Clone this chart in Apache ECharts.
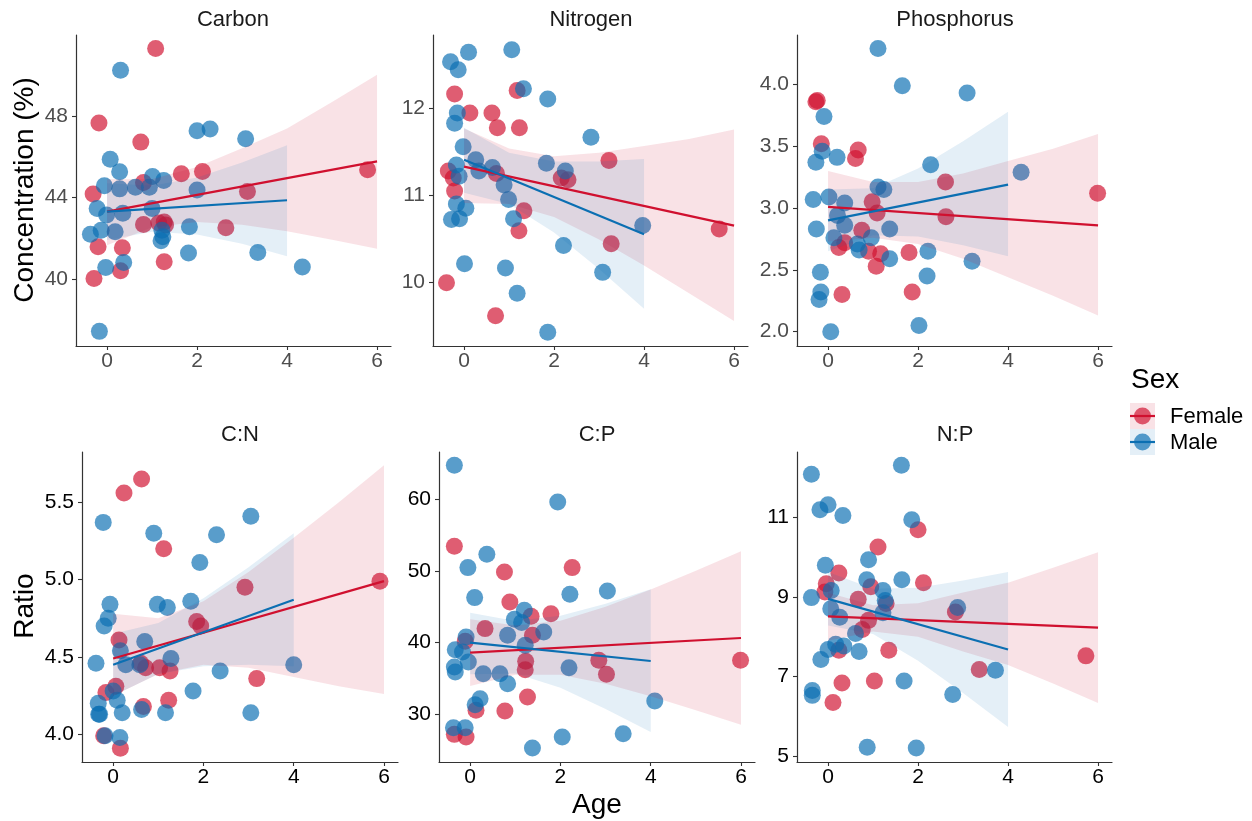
<!DOCTYPE html>
<html>
<head>
<meta charset="utf-8">
<script src="https://cdn.jsdelivr.net/npm/echarts@6/dist/echarts.min.js"></script>
<style>
  html, body { margin: 0; padding: 0; background: #fff; }
  #chart { width: 1252px; height: 821px; }
</style>
</head>
<body>
<div id="chart"></div>
<script>
// panel titles
const panelNames = ['Carbon', 'Nitrogen', 'Phosphorus', 'C:N', 'C:P', 'N:P'];
const sexes = ['Female', 'Male'];
const ageTicks = [0, 2, 4, 6];

// y tick labels per panel
const carbonTicks = [40, 44, 48];
const nitrogenTicks = [10, 11, 12];
const phosphorusTicks = [2.0, 2.5, 3.0, 3.5, 4.0];
const cnTicks = [4.0, 4.5, 5.0, 5.5];
const cpTicks = [30, 40, 50, 60];
const npTicks = [5, 7, 9, 11];

// points: [age, value]
const carbonFemale = [[1.08,51.34],[-0.18,47.67],[0.75,46.73],[0.81,44.74],[-0.31,44.18],[1.65,45.17],[2.12,45.28],[3.12,44.3],[5.79,45.37],[0.81,42.68],[1.15,42.75],[1.27,42.8],[1.30,42.65],[2.64,42.52],[-0.2,41.58],[0.34,41.53],[1.27,40.84],[0.3,40.4],[-0.29,40.02]];
const carbonMale = [[0.3,50.27],[2.0,47.29],[2.29,47.37],[3.08,46.9],[0.07,45.89],[0.28,45.27],[-0.06,44.58],[0.28,44.43],[0.63,44.51],[0.94,44.51],[1.01,45.04],[1.26,44.84],[2.0,44.38],[-0.22,43.47],[-0.01,43.14],[0.35,43.23],[1.0,43.47],[-0.37,42.2],[-0.13,42.4],[0.18,42.32],[1.22,42.4],[1.24,42.07],[1.2,41.88],[1.83,42.57],[1.81,41.28],[3.35,41.3],[0.37,40.81],[-0.03,40.56],[4.34,40.59],[-0.17,37.42]];

const nitrogenFemale = [[-0.21,12.17],[0.13,11.95],[0.62,11.95],[0.74,11.78],[1.18,12.21],[1.23,11.78],[-0.35,11.28],[-0.24,11.2],[-0.21,11.05],[0.72,11.25],[2.16,11.2],[2.31,11.18],[3.22,11.4],[1.33,10.82],[1.22,10.59],[3.27,10.44],[5.67,10.61],[-0.39,9.99],[0.7,9.61]];
const nitrogenMale = [[0.1,12.65],[1.06,12.68],[-0.3,12.54],[-0.13,12.45],[1.32,12.23],[1.86,12.11],[-0.15,11.95],[-0.21,11.83],[2.82,11.67],[-0.02,11.56],[0.26,11.41],[0.33,11.28],[0.63,11.32],[-0.17,11.35],[-0.11,11.22],[1.83,11.37],[2.25,11.28],[0.89,11.12],[0.99,10.95],[-0.17,10.9],[0.04,10.85],[-0.28,10.72],[-0.1,10.73],[1.1,10.73],[3.97,10.65],[2.21,10.42],[0.01,10.21],[0.92,10.16],[3.08,10.11],[1.18,9.87],[1.86,9.42]];

const phosphorusFemale = [[-0.27,3.86],[-0.24,3.87],[-0.15,3.52],[0.67,3.47],[0.61,3.4],[0.98,3.05],[1.09,2.96],[0.75,2.82],[0.37,2.72],[0.24,2.68],[0.9,2.65],[1.17,2.63],[1.07,2.53],[1.8,2.64],[2.61,3.21],[2.62,2.93],[0.31,2.30],[1.87,2.32],[5.99,3.12]];
const phosphorusMale = [[1.11,4.29],[1.65,3.99],[3.09,3.93],[-0.09,3.74],[-0.13,3.46],[-0.27,3.37],[0.2,3.41],[2.28,3.35],[4.29,3.29],[-0.33,3.07],[0.02,3.09],[1.11,3.17],[1.24,3.15],[0.37,3.04],[0.21,2.94],[0.37,2.86],[-0.26,2.83],[1.37,2.83],[0.13,2.76],[0.96,2.76],[0.65,2.71],[0.69,2.66],[1.37,2.59],[2.22,2.65],[3.2,2.57],[-0.17,2.48],[2.2,2.45],[-0.16,2.32],[-0.2,2.26],[0.06,2.0],[2.02,2.05]];

const cnFemale = [[0.63,5.65],[0.24,5.56],[1.12,5.2],[2.92,4.95],[1.85,4.73],[1.94,4.70],[0.13,4.61],[0.61,4.46],[0.72,4.43],[1.03,4.43],[1.26,4.41],[3.18,4.36],[0.06,4.31],[-0.16,4.27],[1.23,4.22],[0.67,4.18],[-0.21,3.99],[0.16,3.91],[5.91,4.99]];
const cnMale = [[-0.22,5.37],[3.05,5.41],[0.9,5.3],[2.29,5.29],[1.92,5.11],[-0.07,4.84],[0.98,4.84],[1.2,4.82],[1.72,4.86],[-0.11,4.75],[-0.2,4.7],[0.7,4.6],[0.16,4.54],[0.28,4.45],[-0.38,4.46],[0.59,4.45],[1.28,4.49],[2.37,4.41],[4.0,4.45],[0.0,4.28],[0.09,4.22],[-0.33,4.2],[-0.32,4.13],[-0.3,4.13],[0.2,4.14],[0.63,4.16],[1.16,4.14],[1.77,4.28],[3.05,4.14],[-0.18,3.99],[0.15,3.98]];

const cpFemale = [[-0.35,53.43],[0.76,49.85],[2.26,50.45],[0.88,45.65],[1.79,44.02],[1.35,43.65],[0.33,41.93],[1.38,41.0],[-0.11,40.16],[1.23,37.36],[1.22,36.2],[2.85,37.5],[3.02,35.55],[5.99,37.5],[1.27,32.38],[0.13,30.52],[0.77,30.42],[-0.35,27.16],[-0.09,26.79]];
const cpMale = [[-0.35,64.75],[1.94,59.63],[0.37,52.31],[-0.05,50.45],[2.21,46.73],[3.04,47.19],[0.1,46.26],[1.2,44.49],[0.98,43.23],[1.14,42.77],[1.63,41.46],[0.83,41.0],[-0.09,40.76],[-0.33,38.99],[-0.17,38.67],[-0.04,37.27],[1.22,39.6],[-0.35,36.57],[-0.33,35.87],[0.29,35.64],[0.66,35.64],[0.83,34.24],[2.19,36.48],[4.09,31.82],[0.22,32.15],[0.11,31.31],[-0.37,28.09],[-0.11,28.09],[2.04,26.79],[3.39,27.26],[1.38,25.25]];

const npFemale = [[2.0,10.68],[1.11,10.25],[0.24,9.6],[-0.04,9.33],[-0.07,9.12],[0.95,9.25],[2.12,9.35],[0.67,8.94],[1.29,8.83],[2.83,8.62],[0.9,8.41],[0.76,8.18],[0.24,7.66],[1.35,7.66],[3.36,7.18],[5.73,7.52],[0.31,6.84],[1.03,6.89],[0.11,6.35]];
const npMale = [[1.63,12.3],[-0.37,12.07],[0.0,11.31],[-0.18,11.18],[0.33,11.04],[1.86,10.93],[0.9,9.93],[-0.06,9.79],[1.64,9.43],[0.86,9.43],[-0.37,8.98],[0.07,9.16],[1.22,9.16],[1.27,8.91],[0.06,8.70],[0.26,8.49],[1.22,8.6],[2.88,8.73],[0.61,8.08],[0.0,7.68],[0.17,7.81],[0.35,7.77],[-0.16,7.43],[0.69,7.63],[3.72,7.16],[1.69,6.89],[-0.35,6.65],[-0.35,6.53],[2.77,6.55],[0.87,5.23],[1.96,5.21]];

// fitted lines: [age, value] at the ends
const carbonFitF = [[0,43.31],[6,45.78]];
const carbonFitM = [[0,43.31],[4,43.87]];
const nitrogenFitF = [[0,11.33],[6,10.65]];
const nitrogenFitM = [[0,11.41],[4,10.55]];
const phosphorusFitF = [[0,3.01],[6,2.86]];
const phosphorusFitM = [[0,2.90],[4,3.19]];
const cnFitF = [[0,4.49],[6,4.99]];
const cnFitM = [[0,4.45],[4,4.87]];
const cpFitF = [[0,38.57],[6,40.62]];
const cpFitM = [[0,39.97],[4,37.41]];
const npFitF = [[0,8.51],[6,8.23]];
const npFitM = [[0,8.95],[4,7.68]];

// confidence bands: [age, lower, upper]
const carbonBandF = [[0,41.66,44.9],[1,42.54,44.9],[2,42.8,45.5],[3,42.67,46.43],[4,42.35,47.4],[5,41.93,48.7],[6,41.48,50.04]];
const carbonBandM = [[0,41.91,44.71],[1,42.32,44.58],[2,42.19,44.99],[3,41.73,45.73],[4,41.12,46.58]];
const nitrogenBandF = [[0,10.91,11.77],[1,10.9,11.54],[2,10.75,11.45],[3,10.49,11.49],[4,10.19,11.57],[5,9.87,11.65],[6,9.55,11.76]];
const nitrogenBandM = [[0,11.03,11.78],[1,10.9,11.49],[2,10.57,11.39],[3,10.15,11.39],[4,9.69,11.42]];
const phosphorusBandF = [[0,2.73,3.3],[1,2.76,3.21],[2,2.71,3.21],[3,2.59,3.28],[4,2.44,3.38],[5,2.29,3.48],[6,2.13,3.6]];
const phosphorusBandM = [[0,2.65,3.15],[1,2.78,3.16],[2,2.77,3.32],[3,2.7,3.54],[4,2.61,3.78]];
const cnBandF = [[0,4.25,4.78],[1,4.39,4.75],[2,4.45,4.86],[3,4.43,5.05],[4,4.37,5.27],[5,4.31,5.5],[6,4.26,5.74]];
const cnBandM = [[0,4.25,4.65],[1,4.39,4.72],[2,4.44,4.88],[3,4.45,5.08],[4,4.44,5.3]];
const cpBandF = [[0,33.92,43.23],[1,35.47,42.35],[2,35.47,43.03],[3,34.22,44.98],[4,32.47,47.41],[5,30.53,50.03],[6,28.51,52.73]];
const cpBandM = [[0,35.55,44.16],[1,35.67,42.99],[2,33.66,43.72],[3,30.69,45.41],[4,27.49,47.42]];
const npBandF = [[0,7.9,9.1],[1,8.13,8.79],[2,8.0,8.84],[3,7.63,9.11],[4,7.29,9.35],[5,6.83,9.73],[6,6.34,10.12]];
const npBandM = [[0,8.28,9.62],[1,8.07,9.2],[2,7.4,9.23],[3,6.59,9.41],[4,5.74,9.62]];

const RED = '#D0102F';
const BLUE = '#0B6FB2';
const RED_FILL = 'rgba(208,16,47,0.12)';
const BLUE_FILL = 'rgba(11,111,178,0.11)';
const FONT = 'Liberation Sans, Arial, sans-serif';

const chart = echarts.init(document.getElementById('chart'));

// grid boxes in pixels
const grids = [
  { left: 76, top: 35, width: 315, height: 311 },
  { left: 433, top: 35, width: 315, height: 311 },
  { left: 797, top: 35, width: 315, height: 311 },
  { left: 82, top: 452, width: 316, height: 310 },
  { left: 439, top: 452, width: 316, height: 310 },
  { left: 797, top: 452, width: 315, height: 310 }
];
const yRanges = [[36.7, 52.0], [9.26, 12.85], [1.884, 4.40], [3.821, 5.825], [23.3, 66.6], [4.86, 12.63]];
const yTicks = [carbonTicks, nitrogenTicks, phosphorusTicks, cnTicks, cpTicks, npTicks];
const yDecimals = [0, 0, 1, 1, 0, 0];
const femalePts = [carbonFemale, nitrogenFemale, phosphorusFemale, cnFemale, cpFemale, npFemale];
const malePts = [carbonMale, nitrogenMale, phosphorusMale, cnMale, cpMale, npMale];
const fitF = [carbonFitF, nitrogenFitF, phosphorusFitF, cnFitF, cpFitF, npFitF];
const fitM = [carbonFitM, nitrogenFitM, phosphorusFitM, cnFitM, cpFitM, npFitM];
const bandF = [carbonBandF, nitrogenBandF, phosphorusBandF, cnBandF, cpBandF, npBandF];
const bandM = [carbonBandM, nitrogenBandM, phosphorusBandM, cnBandM, cpBandM, npBandM];

const xAxes = [], yAxes = [], series = [];

grids.forEach((g, i) => {
  const labelColor = i < 3 ? '#4D4D4D' : '#000';
  xAxes.push({
    type: 'value', gridIndex: i, min: -0.69, max: 6.31,
    splitLine: { show: false },
    axisLine: { onZero: false, lineStyle: { color: '#333', width: 1.2 } },
    axisTick: { customValues: ageTicks, length: 4, lineStyle: { color: '#333', width: 1.1 } },
    axisLabel: { customValues: ageTicks, color: labelColor, fontSize: 21, margin: 5, fontFamily: FONT }
  });
  yAxes.push({
    type: 'value', gridIndex: i, min: yRanges[i][0], max: yRanges[i][1],
    splitLine: { show: false },
    axisLine: { onZero: false, lineStyle: { color: '#333', width: 1.2 } },
    axisTick: { customValues: yTicks[i], length: 4, lineStyle: { color: '#333', width: 1.1 } },
    axisLabel: {
      customValues: yTicks[i], color: labelColor, fontSize: 21, margin: 8, fontFamily: FONT,
      formatter: v => Number(v).toFixed(yDecimals[i])
    }
  });

  const pairs = [
    [femalePts[i], fitF[i], bandF[i], RED, RED_FILL],
    [malePts[i], fitM[i], bandM[i], BLUE, BLUE_FILL]
  ];
  pairs.forEach(([pts, fit, band, color, fill], s) => {
    series.push({
      name: sexes[s], type: 'scatter', xAxisIndex: i, yAxisIndex: i,
      data: pts, symbolSize: 17, z: 2,
      itemStyle: { color: color, opacity: 0.68 }
    });
    series.push({
      type: 'custom', xAxisIndex: i, yAxisIndex: i, data: band, z: 3, silent: true,
      encode: { x: 0, y: [1, 2] },
      renderItem: (params, api) => {
        if (params.dataIndex !== 0) return;
        const upper = band.map(r => api.coord([r[0], r[2]]));
        const lower = band.slice().reverse().map(r => api.coord([r[0], r[1]]));
        return { type: 'polygon', shape: { points: upper.concat(lower) }, style: { fill: fill } };
      }
    });
    series.push({
      type: 'line', xAxisIndex: i, yAxisIndex: i, data: fit, z: 4, silent: true,
      showSymbol: false, symbol: 'none',
      lineStyle: { color: color, width: 2.2 }
    });
  });
});

// panel strip titles
const titleCenters = [[233, 20], [591, 20], [955, 20], [240, 435], [597, 435], [955, 435]];
const graphics = panelNames.map((name, i) => ({
  type: 'text', x: titleCenters[i][0], y: titleCenters[i][1], silent: true,
  style: { text: name, font: '22px ' + FONT, fill: '#1a1a1a', align: 'center', verticalAlign: 'middle', textAlign: 'center', textVerticalAlign: 'middle' }
}));

// axis titles
graphics.push(
  { type: 'text', x: 25, y: 190, rotation: Math.PI / 2, silent: true,
    style: { text: 'Concentration (%)', font: '28px ' + FONT, fill: '#000', align: 'center', verticalAlign: 'middle', textAlign: 'center', textVerticalAlign: 'middle' } },
  { type: 'text', x: 25, y: 606, rotation: Math.PI / 2, silent: true,
    style: { text: 'Ratio', font: '28px ' + FONT, fill: '#000', align: 'center', verticalAlign: 'middle', textAlign: 'center', textVerticalAlign: 'middle' } },
  { type: 'text', x: 597, y: 805, silent: true,
    style: { text: 'Age', font: '28px ' + FONT, fill: '#000', align: 'center', verticalAlign: 'middle', textAlign: 'center', textVerticalAlign: 'middle' } }
);

// legend
graphics.push({ type: 'text', x: 1131, y: 380, silent: true,
  style: { text: 'Sex', font: '28px ' + FONT, fill: '#000', align: 'left', verticalAlign: 'middle', textAlign: 'left', textVerticalAlign: 'middle' } });
[[RED, RED_FILL, 403], [BLUE, BLUE_FILL, 429]].forEach(([c, f, top], s) => {
  graphics.push(
    { type: 'rect', silent: true, shape: { x: 1130, y: top, width: 25, height: 26 }, style: { fill: f } },
    { type: 'circle', silent: true, shape: { cx: 1142.5, cy: top + 13, r: 8.5 }, style: { fill: c, opacity: 0.68 } },
    { type: 'line', silent: true, shape: { x1: 1130, y1: top + 13, x2: 1155, y2: top + 13 }, style: { stroke: c, lineWidth: 2.2 } },
    { type: 'text', x: 1170, y: top + 14, silent: true,
      style: { text: sexes[s], font: '22px ' + FONT, fill: '#000', align: 'left', verticalAlign: 'middle', textAlign: 'left', textVerticalAlign: 'middle' } }
  );
});

chart.setOption({
  animation: false,
  backgroundColor: '#fff',
  grid: grids,
  xAxis: xAxes,
  yAxis: yAxes,
  series: series,
  graphic: graphics
});
</script>
</body>
</html>
